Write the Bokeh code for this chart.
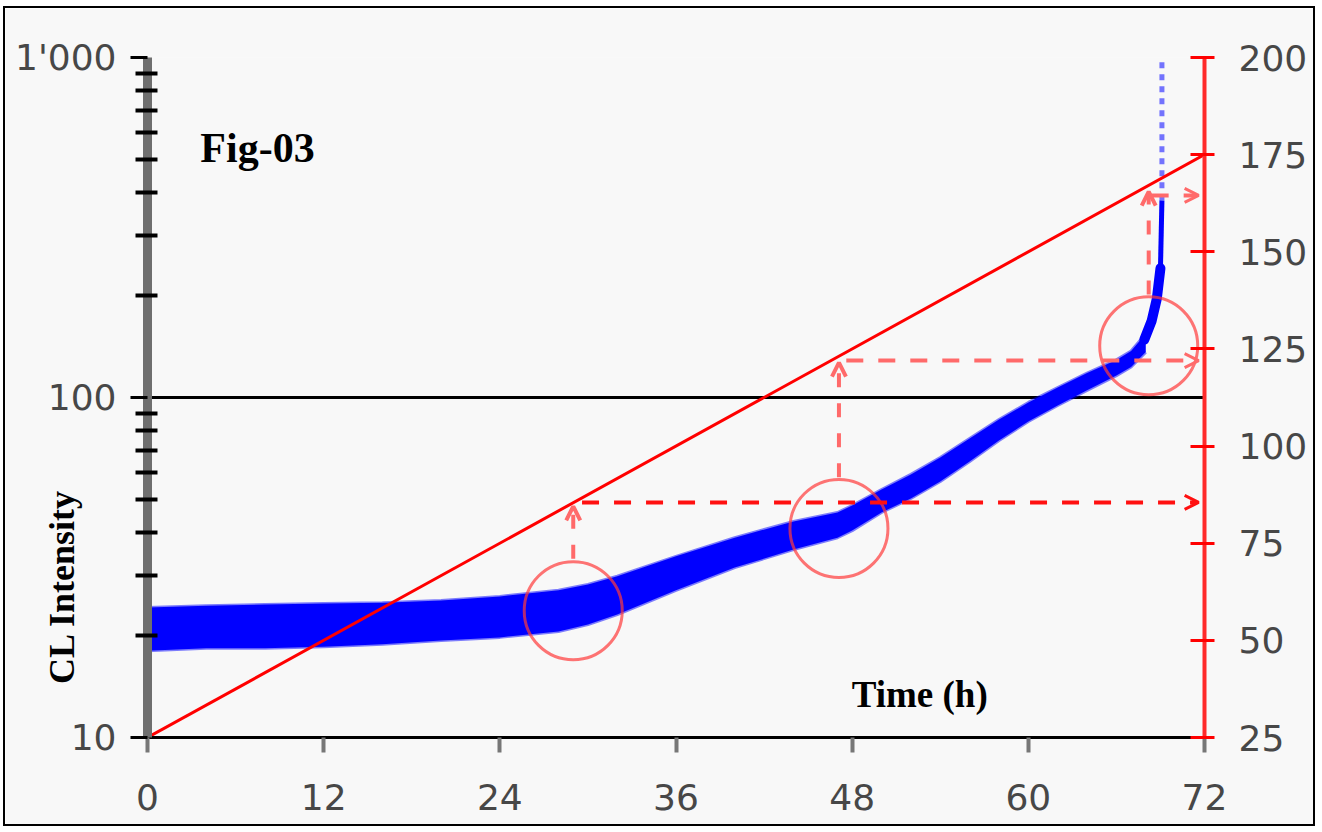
import numpy as np
from bokeh.plotting import figure
from bokeh.models import (LinearAxis, Range1d, FixedTicker, Label, Arrow, OpenHead,
                          ColumnDataSource, CustomJSTickFormatter, LinearScale)
from bokeh.embed import file_html
from bokeh.resources import INLINE

# ---------------- data ----------------
x_ticks = [0, 12, 24, 36, 48, 60, 72]
left_major = [10, 100, 1000]
left_minor = [20, 30, 40, 50, 60, 70, 80, 90, 200, 300, 400, 500, 600, 700, 800, 900]
right_ticks = [25, 50, 75, 100, 125, 150, 175, 200]

# CL intensity band (lower / upper envelope of the measured points)
band_t = [0, 4, 8, 12, 16, 20, 24, 28, 30, 32, 36, 40, 44, 47, 48, 50, 52, 54, 56,
          58, 60, 62, 64, 66, 67, 68]
band_lo = [18.0, 18.3, 18.3, 18.5, 18.8, 19.3, 19.7, 20.5, 21.5, 23.0, 27.1, 31.6, 35.7,
           38.7, 40.6, 45.9, 50.5, 56.6, 64.8, 74.7, 85.0, 94.7, 105, 116, 123, 136]
band_hi = [24.1, 24.4, 24.6, 24.8, 24.9, 25.3, 26.0, 27.1, 28.2, 29.8, 34.1, 38.7, 43.2,
           45.9, 48.1, 53.6, 59.4, 66.6, 75.8, 86.1, 96.7, 107, 118, 129, 137, 154]

# final steep rise of the CL intensity
spike_t = [67.9, 68.4, 68.75, 69.0]
spike_v = [148, 168, 195, 240]
spike2_t = [69.0, 69.1]
spike2_v = [240, 380]
dot_t = [69.1, 69.1]
dot_v = [380, 1000]

# temperature ramp (right axis)
ramp_t = [0, 72]
ramp_v = [25, 175]

# highlighted points
circle_t = [29.0, 47.1, 68.2]
circle_v = [23.6, 41.2, 142]
arrow_from = [71.0, 92.0, 139.0]
arrow_to = [84.5, 121.5, 165.5]
horiz_v = [85.5, 122.0, 164.5]
horiz_start = [29.6, 47.6, 68.4]
horiz_end = 71.6

# ---------------- figure ----------------
p = figure(width=1312, height=820, x_range=Range1d(0, 72), y_range=Range1d(10, 1000),
           y_axis_type="log", output_backend="svg", toolbar_location=None,
           min_border_left=142, min_border_right=113, min_border_top=49, min_border_bottom=91,
           background_fill_color="#f8f8f8", border_fill_color="#f8f8f8",
           outline_line_color=None)
p.extra_y_ranges = {"right": Range1d(25, 200)}
p.extra_y_scales = {"right": LinearScale()}
p.styles = {"border": "2px solid black", "margin-left": "3px", "margin-top": "6px"}

TICK_FONT = "DejaVu Sans"
TICK_SIZE = "36px"
TICK_COLOR = "#474747"

# left log axis
ya = p.yaxis[0]
ya.ticker = FixedTicker(ticks=left_major, minor_ticks=left_minor)
ya.formatter = CustomJSTickFormatter(code="return tick >= 999 ? \"1'000\" : String(Math.round(tick));")
ya.axis_line_color = "#6f6f6f"
ya.axis_line_width = 9
ya.major_tick_line_color = "black"
ya.major_tick_line_width = 3
ya.major_tick_out = 17
ya.major_tick_in = 0
ya.minor_tick_line_color = "black"
ya.minor_tick_line_width = 4
ya.minor_tick_out = 12
ya.minor_tick_in = 10
ya.major_label_standoff = 14
ya.major_label_text_font = TICK_FONT
ya.major_label_text_font_size = TICK_SIZE
ya.major_label_text_color = TICK_COLOR
# axis title, shifted toward the lower part of the axis with trailing no-break spaces
ya.axis_label = "CL Intensity" + "\u00a0" * 42
ya.axis_label_standoff = -70
ya.axis_label_text_font = "Liberation Serif"
ya.axis_label_text_font_style = "bold"
ya.axis_label_text_font_size = "36px"
ya.axis_label_text_color = "black"

# bottom axis
xa = p.xaxis[0]
xa.ticker = FixedTicker(ticks=x_ticks)
xa.axis_line_color = "black"
xa.axis_line_width = 3
xa.major_tick_line_color = "#777777"
xa.major_tick_line_width = 4
xa.major_tick_out = 15
xa.major_tick_in = 0
xa.minor_tick_line_color = None
xa.major_label_standoff = 31
xa.major_label_text_font = TICK_FONT
xa.major_label_text_font_size = TICK_SIZE
xa.major_label_text_color = TICK_COLOR

# right red axis
ra = LinearAxis(y_range_name="right", ticker=FixedTicker(ticks=right_ticks))
ra.axis_line_color = "#ff2a2a"
ra.axis_line_width = 4
ra.major_tick_line_color = "#ff0000"
ra.major_tick_line_width = 3
ra.major_tick_in = 14
ra.major_tick_out = 10
ra.minor_tick_line_color = None
ra.major_label_standoff = 24
ra.major_label_text_font = TICK_FONT
ra.major_label_text_font_size = TICK_SIZE
ra.major_label_text_color = TICK_COLOR
p.add_layout(ra, "right")

# grid: only the decades, black
p.xgrid.grid_line_color = None
p.ygrid.ticker = FixedTicker(ticks=left_major)
p.ygrid.grid_line_color = "black"
p.ygrid.grid_line_width = 3
p.ygrid.minor_grid_line_color = None

# ---------------- data renderers ----------------
band_src = ColumnDataSource(dict(t=band_t, lo=band_lo, hi=band_hi))
p.varea(x="t", y1="lo", y2="hi", source=band_src, fill_color="#0000ff")
p.line(band_t, band_lo, line_color="#0000ff", line_width=3, line_alpha=0.5)
p.line(band_t, band_hi, line_color="#0000ff", line_width=3, line_alpha=0.5)
p.line(spike_t, spike_v, line_color="#0000ff", line_width=10, line_cap="round")
p.line(spike2_t, spike2_v, line_color="#0000ff", line_width=5)
p.line(dot_t, dot_v, line_color="#3a3aff", line_alpha=0.7, line_width=5, line_dash="6 6")

# temperature ramp
p.line(ramp_t, ramp_v, y_range_name="right", line_color="#ff0000", line_width=3)

# circles
p.scatter(circle_t, circle_v, marker="circle", size=98, fill_color=None,
          line_color="#ff3b3b", line_alpha=0.7, line_width=3)

# dashed arrows
for i in range(3):
    vcol = "#ff6a6a"
    p.add_layout(Arrow(x_start=circle_t[i], y_start=arrow_from[i], x_end=circle_t[i], y_end=arrow_to[i],
                       y_range_name="right", line_color=vcol, line_width=4, line_dash="14 16",
                       end=OpenHead(size=14, line_color=vcol, line_width=4)))
    hcol = "#ff1010" if i == 0 else "#ff6a6a"
    p.add_layout(Arrow(x_start=horiz_start[i], y_start=horiz_v[i], x_end=horiz_end, y_end=horiz_v[i],
                       y_range_name="right", line_color=hcol, line_width=4, line_dash="17 15",
                       end=OpenHead(size=14, line_color=hcol, line_width=3)))

# ---------------- texts ----------------
p.add_layout(Label(x=3.6, y=543, text="Fig-03", text_font="Liberation Serif",
                   text_font_style="bold", text_font_size="42px", text_color="black",
                   text_align="left", text_baseline="alphabetic"))
p.add_layout(Label(x=52.6, y=13.4, text="Time (h)", text_font="Liberation Serif",
                   text_font_style="bold", text_font_size="37px", text_color="black",
                   text_align="center", text_baseline="middle"))

open("out.html", "w").write(file_html(p, INLINE))
